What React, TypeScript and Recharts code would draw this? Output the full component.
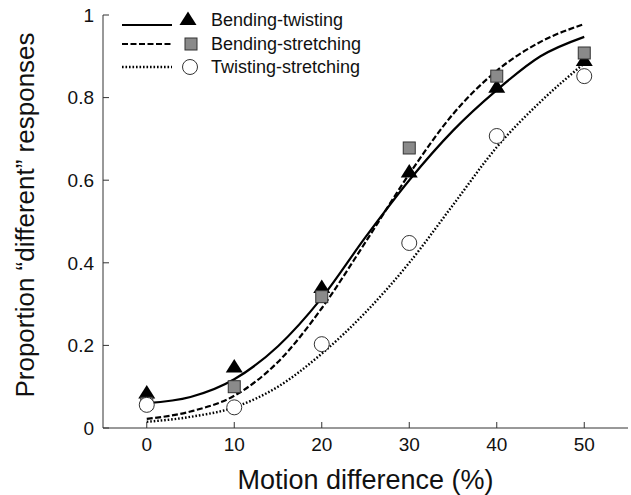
import { ComposedChart, Line, Scatter, XAxis, YAxis, Legend } from "recharts";

const FONT = "'Liberation Sans', Arial, Helvetica, sans-serif";
const INK = "#111";

const xTicks = [0, 10, 20, 30, 40, 50];
const yTicks = [0, 0.2, 0.4, 0.6, 0.8, 1];

// observed proportions at each motion difference
const levels = [0, 10, 20, 30, 40, 50];
const bendTwistObs = [0.085, 0.148, 0.34, 0.62, 0.825, 0.89];
const bendStretchObs = [0.06, 0.1, 0.318, 0.678, 0.852, 0.908];
const twistStretchObs = [0.056, 0.05, 0.203, 0.448, 0.707, 0.852];

// fitted curves
const fitX = [0, 5, 10, 15, 20, 25, 30, 35, 40, 45, 50];
const bendTwistFit = [0.06, 0.075, 0.118, 0.198, 0.315, 0.462, 0.6, 0.72, 0.818, 0.9, 0.947];
const bendStretchFit = [0.022, 0.04, 0.078, 0.16, 0.29, 0.45, 0.615, 0.76, 0.865, 0.935, 0.978];
const twistStretchFit = [0.015, 0.027, 0.05, 0.1, 0.18, 0.28, 0.4, 0.54, 0.68, 0.79, 0.883];

const seriesNames = ["Bending-twisting", "Bending-stretching", "Twisting-stretching"];

const DOTTED = "1.6 1.9";
const DASHED = "6 2.5";

const toPoints = (xs: number[], ys: number[]) => xs.map((x, i) => ({ x, y: ys[i] }));

function Triangle({ cx, cy }: any) {
  return <path d={`M${cx},${cy - 8} L${cx + 8.5},${cy + 5.5} L${cx - 8.5},${cy + 5.5} Z`} fill="#000" />;
}

function Square({ cx, cy }: any) {
  return <rect x={cx - 6} y={cy - 6} width={12} height={12} fill="#8a8a8a" stroke="#333" strokeWidth={1} />;
}

function Circle({ cx, cy }: any) {
  return <circle cx={cx} cy={cy} r={7.5} fill="#fff" stroke="#333" strokeWidth={1} />;
}

function XTick({ x, y, payload }: any) {
  return (
    <g>
      <line x1={x} x2={x} y1={y} y2={y - 6} stroke="#333" />
      <text x={x} y={y + 10} dy="0.71em" textAnchor="middle" fontSize={19} fontFamily={FONT} fill={INK}>
        {payload.value}
      </text>
    </g>
  );
}

function YTick({ x, y, payload }: any) {
  return (
    <g>
      <line x1={x} x2={x + 6} y1={y} y2={y} stroke="#333" />
      <text x={x - 9} y={y} dy="0.355em" textAnchor="end" fontSize={19} fontFamily={FONT} fill={INK}>
        {String(payload.value)}
      </text>
    </g>
  );
}

function LegendBox() {
  const rows = [
    { line: 25, mark: 19.5, text: 26, dash: undefined as string | undefined },
    { line: 44, mark: 44, text: 50, dash: DASHED },
    { line: 67, mark: 67, text: 73, dash: DOTTED },
  ];
  return (
    <svg width={420} height={85} style={{ display: "block", overflow: "visible" }}>
      {rows.map((r, i) => (
        <g key={i}>
          <line
            x1={122}
            x2={172}
            y1={r.line}
            y2={r.line}
            stroke="#000"
            strokeWidth={i === 2 ? 2.4 : 2.2}
            strokeDasharray={r.dash}
          />
          {i === 0 && <Triangle cx={188} cy={r.mark} />}
          {i === 1 && <Square cx={191} cy={r.mark} />}
          {i === 2 && <Circle cx={190} cy={r.mark} />}
          <text x={211} y={r.text} fontSize={18} fontFamily={FONT} fill={INK}>
            {seriesNames[i]}
          </text>
        </g>
      ))}
    </svg>
  );
}

export default function App() {
  return (
    <div style={{ position: "absolute", left: 0, top: 0, background: "#fff" }}>
      <ComposedChart width={631} height={495} margin={{ top: 15, right: 3, bottom: 0, left: 0 }}>
        <XAxis
          dataKey="x"
          type="number"
          domain={[-5, 55]}
          ticks={xTicks}
          height={67}
          tickSize={0}
          tickMargin={0}
          tickLine={false}
          axisLine={{ stroke: "#333" }}
          tick={<XTick />}
          label={{
            value: "Motion difference (%)",
            position: "insideBottom",
            offset: 6,
            fontSize: 27,
            fontFamily: FONT,
            fill: INK,
          }}
          allowDataOverflow
        />
        <YAxis
          dataKey="y"
          type="number"
          domain={[0, 1]}
          ticks={yTicks}
          width={103}
          tickSize={0}
          tickMargin={0}
          tickLine={false}
          axisLine={{ stroke: "#333" }}
          tick={<YTick />}
          label={{
            content: () => (
              <text
                transform="translate(34,215) rotate(-90)"
                textAnchor="middle"
                fontSize={26}
                fontFamily={FONT}
                fill={INK}
              >
                Proportion “different” responses
              </text>
            ),
          }}
        />
        <Legend
          layout="horizontal"
          verticalAlign="middle"
          align="center"
          content={() => <LegendBox />}
          wrapperStyle={{ top: 0, left: 0, width: 420, height: 85, overflow: "visible" }}
        />
        <Line
          data={toPoints(fitX, twistStretchFit)}
          dataKey="y"
          type="monotone"
          stroke="#000"
          strokeWidth={2.4}
          strokeDasharray={DOTTED}
          dot={false}
          activeDot={false}
          isAnimationActive={false}
        />
        <Line
          data={toPoints(fitX, bendStretchFit)}
          dataKey="y"
          type="monotone"
          stroke="#000"
          strokeWidth={2.2}
          strokeDasharray={DASHED}
          dot={false}
          activeDot={false}
          isAnimationActive={false}
        />
        <Line
          data={toPoints(fitX, bendTwistFit)}
          dataKey="y"
          type="monotone"
          stroke="#000"
          strokeWidth={2.2}
          dot={false}
          activeDot={false}
          isAnimationActive={false}
        />
        <Scatter data={toPoints(levels, bendTwistObs)} dataKey="y" shape={<Triangle />} isAnimationActive={false} />
        <Scatter data={toPoints(levels, bendStretchObs)} dataKey="y" shape={<Square />} isAnimationActive={false} />
        <Scatter data={toPoints(levels, twistStretchObs)} dataKey="y" shape={<Circle />} isAnimationActive={false} />
      </ComposedChart>
    </div>
  );
}
